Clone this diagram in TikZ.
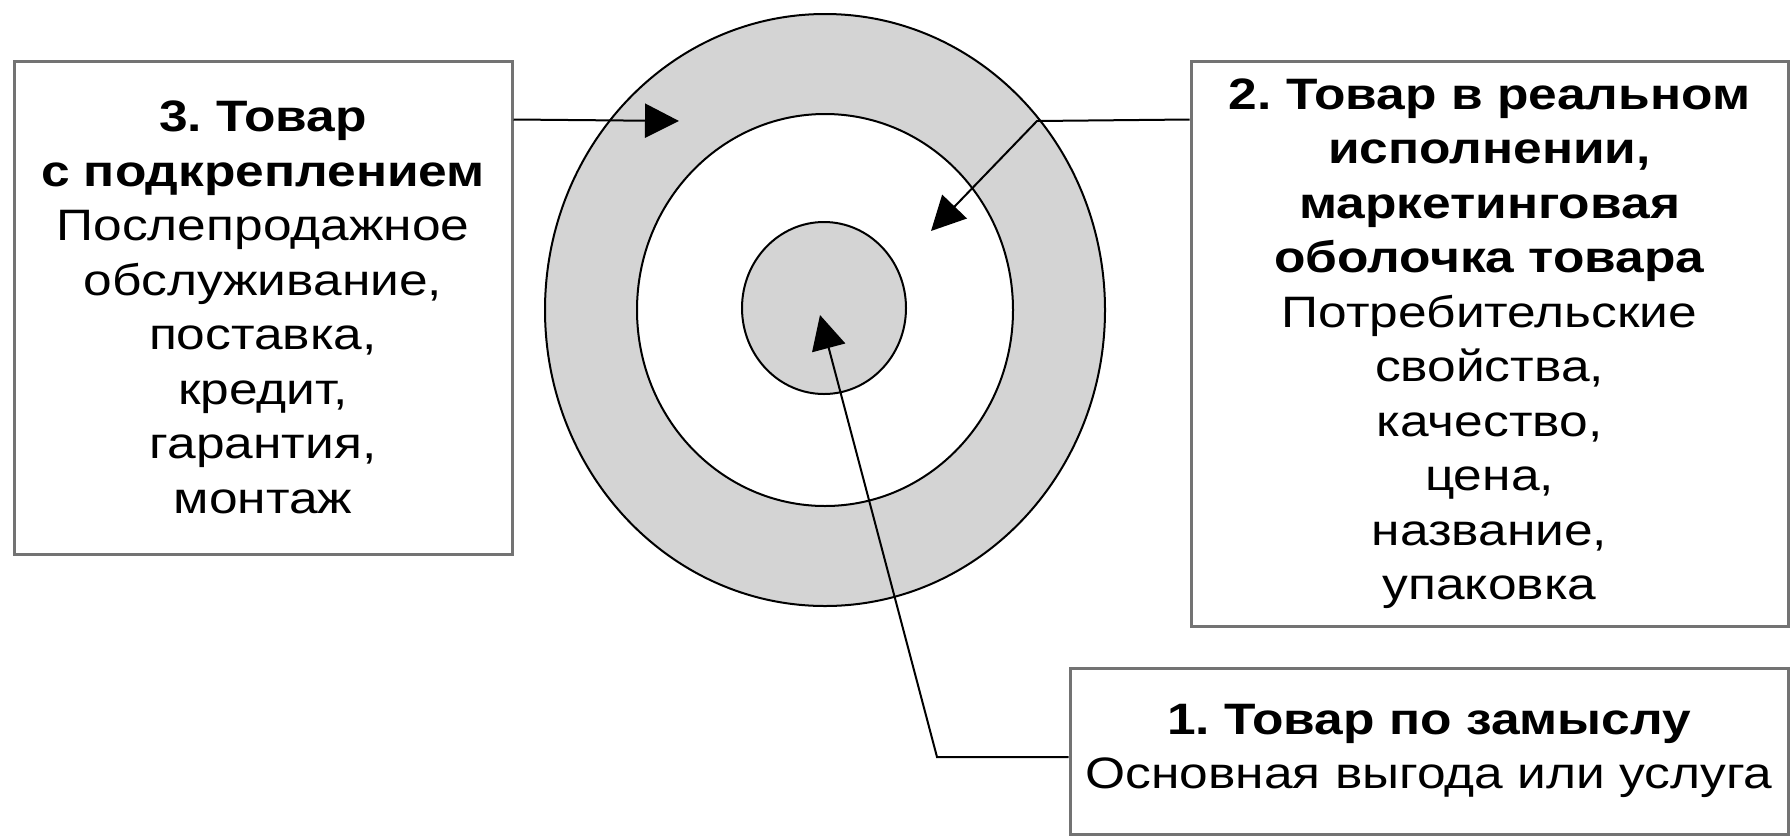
\documentclass[tikz,border=0pt]{standalone}
\usepackage{fontspec}
\setmainfont[FakeStretch=1.17]{Liberation Sans}
\usetikzlibrary{arrows.meta,calc}
\frenchspacing

\tikzset{
  kadr/.style={draw=black!55, line width=3pt, fill=white, align=center, inner sep=0pt,
    font=\fontsize{44}{54.5}\selectfont},
  strelka/.style={line width=2pt, -{Triangle[length=34pt,width=34pt]}},
  kolco/.style={draw=black, line width=2pt},
}

\begin{document}
\begin{tikzpicture}[x=1pt,y=-1pt]
    \useasboundingbox[fill=white] (0,0) rectangle (1791,836);

    % ================= Круги (уровни товара) =================
    \filldraw[kolco, fill=black!17] (825,310) ellipse [x radius=280pt, y radius=296pt];
    \filldraw[kolco, fill=white] (825,310) ellipse [x radius=188pt, y radius=196pt];
    \filldraw[kolco, fill=black!17] (824,308) ellipse [x radius=82pt, y radius=86pt];

    % ================= Рамки с текстом =================
    % 1. Левая рамка
    \node[kadr, minimum width=498pt, minimum height=493pt] (box3) at (263,307.5)
        {\textbf{3. Товар}\\\textbf{с подкреплением}\\Послепродажное\\обслуживание,\\поставка,\\кредит,\\гарантия,\\монтаж};

    % 2. Правая рамка
    \node[kadr, minimum width=597pt, minimum height=565pt] (box2) at (1489.5,343.5)
        {\textbf{2. Товар в реальном}\\\textbf{исполнении,}\\\textbf{маркетинговая}\\\textbf{оболочка товара}\\Потребительские\\свойства,\\качество,\\цена,\\название,\\упаковка};

    % 3. Нижняя рамка
    \node[kadr, minimum width=718pt, minimum height=166pt] (box1) at (1429,751)
        {\textbf{1. Товар по замыслу}\\Основная выгода или услуга};

    % ================= Стрелки =================
    \coordinate (t3) at (679,121);
    \coordinate (k2) at (1037,121);
    \coordinate (t2) at (931,231);
    \coordinate (k1) at (937,757);
    \coordinate (t1) at (820,315);

    \draw[strelka] ($(box3.north east)+(0,60)$) -- (t3);
    \draw[strelka] ($(box2.north west)+(0,60)$) -- (k2) -- (t2);
    \draw[strelka] ($(box1.west)+(0,6)$) -- (k1) -- (t1);
\end{tikzpicture}
\end{document}
